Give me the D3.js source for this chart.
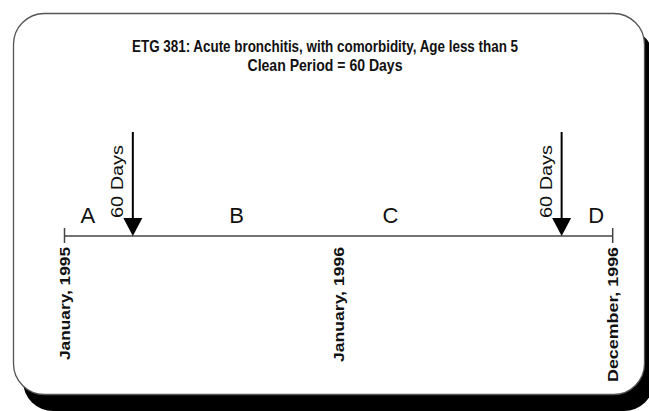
<!DOCTYPE html>
<html>
<head>
<meta charset="utf-8">
<script src="https://cdn.jsdelivr.net/npm/d3@7"></script>
<style>
  body { margin: 0; background: #fff; }
  svg { display: block; }
</style>
</head>
<body>
<svg id="chart" width="649" height="411"></svg>
<script>
// titles
const titleLines = ["ETG 381: Acute bronchitis, with comorbidity, Age less than 5", "Clean Period = 60 Days"];
// timeline ends and date labels
const axisDates = ["1995-01-01", "1996-12-31"];
const tickDates = ["1995-01-01", "1996-12-31"];
const dateLabels = ["January, 1995", "January, 1996", "December, 1996"];
const dateLabelAt = ["1995-01-01", "1996-01-01", "1996-12-31"];
// segments
const segLetters = ["A", "B", "C", "D"];
const segDates = ["1995-02-01", "1995-08-18", "1996-03-10", "1996-12-09"];
// clean period markers
const markerDates = ["1995-04-02", "1996-10-24"];
const markerText = ["60 Days", "60 Days"];

const parse = d3.timeParse("%Y-%m-%d");
const svg = d3.select("#chart");

// box with shadow
svg.append("rect")
    .attr("x", 23).attr("y", 29)
    .attr("width", 631).attr("height", 382)
    .attr("rx", 30).attr("ry", 30)
    .attr("fill", "#000")
svg.append("rect")
    .attr("x", 13.5).attr("y", 13.5)
    .attr("width", 631).attr("height", 381)
    .attr("rx", 31).attr("ry", 31)
    .attr("fill", "#fff")
    .attr("stroke", "#555")
    .attr("stroke-width", 1.3)

// title (narrow bold face, squeezed to the reference width)
const titleLen = [386, 155];
svg.selectAll(".title")
    .data(titleLines)
    .join("text")
    .attr("class", "title")
    .attr("x", 325)
    .attr("y", (d, i) => 52 + i * 19)
    .attr("text-anchor", "middle")
    .attr("font-family", "'Liberation Sans', Arial, sans-serif")
    .attr("font-weight", "bold")
    .attr("font-size", "16.5px")
    .attr("textLength", (d, i) => titleLen[i])
    .attr("lengthAdjust", "spacingAndGlyphs")
    .attr("fill", "#111")
    .text(d => d)

let x = d3.scaleTime()
    .domain(axisDates.map(parse))
    .range([64.5, 612.7])

const lineY = 236;

// timeline
svg.append("line")
    .attr("x1", x(parse(axisDates[0]))).attr("x2", x(parse(axisDates[1])))
    .attr("y1", lineY).attr("y2", lineY)
    .attr("stroke", "#444").attr("stroke-width", 1.5)
svg.selectAll(".tick")
    .data(tickDates)
    .join("line")
    .attr("class", "tick")
    .attr("x1", d => x(parse(d))).attr("x2", d => x(parse(d)))
    .attr("y1", lineY - 8).attr("y2", lineY + 7)
    .attr("stroke", "#444").attr("stroke-width", 1.5)

// date labels, rotated
const labelLen = [113, 115, 135];
svg.selectAll(".dlabel")
    .data(dateLabels)
    .join("text")
    .attr("class", "dlabel")
    .attr("transform", (d, i) => "translate(" + (x(parse(dateLabelAt[i])) + 5.5) + "," + (lineY + 11) + ") rotate(-90)")
    .attr("text-anchor", "end")
    .attr("font-family", "'Liberation Sans', Arial, sans-serif")
    .attr("font-weight", "bold")
    .attr("font-size", "14px")
    .attr("textLength", (d, i) => labelLen[i])
    .attr("lengthAdjust", "spacingAndGlyphs")
    .attr("fill", "#111")
    .text(d => d)

// segment letters
svg.selectAll(".seg")
    .data(segLetters)
    .join("text")
    .attr("class", "seg")
    .attr("x", (d, i) => x(parse(segDates[i])))
    .attr("y", 223)
    .attr("text-anchor", "middle")
    .attr("font-family", "'Liberation Sans', Arial, sans-serif")
    .attr("font-size", "22px")
    .attr("fill", "#111")
    .text(d => d)

// arrows
let arrows = svg.selectAll(".arrow")
    .data(markerDates)
    .join("g")
    .attr("class", "arrow")
    .attr("transform", d => "translate(" + x(parse(d)) + ",0)")
arrows.append("line")
    .attr("x1", 0).attr("x2", 0)
    .attr("y1", 132).attr("y2", 220)
    .attr("stroke", "#000").attr("stroke-width", 2)
arrows.append("path")
    .attr("d", "M-9.5," + (lineY - 18) + "L9.5," + (lineY - 18) + "L0," + lineY + "Z")
    .attr("fill", "#000")
arrows.append("text")
    .attr("transform", "translate(-10,218) rotate(-90)")
    .attr("text-anchor", "start")
    .attr("font-family", "'Liberation Sans', Arial, sans-serif")
    .attr("font-size", "17px")
    .attr("textLength", 73)
    .attr("lengthAdjust", "spacingAndGlyphs")
    .attr("fill", "#111")
    .text((d, i) => markerText[i])
</script>
</body>
</html>
